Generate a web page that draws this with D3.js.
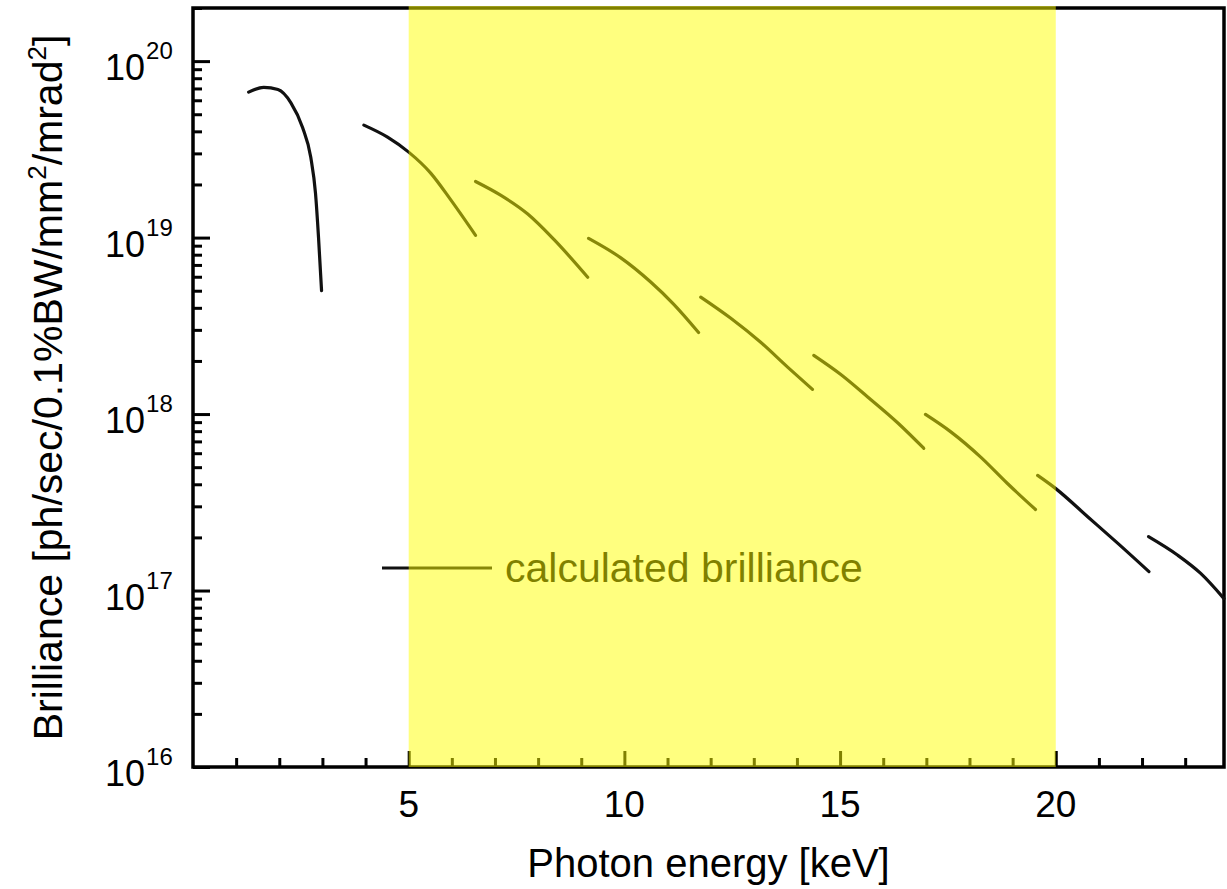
<!DOCTYPE html>
<html>
<head>
<meta charset="utf-8">
<script src="https://cdn.jsdelivr.net/npm/d3@7"></script>
<style>
  body { margin: 0; background: #fff; }
  text { font-family: "Liberation Sans", Arial, sans-serif; fill: #000; }
</style>
</head>
<body>
<div id="chart"></div>
<script>
// undulator harmonics, photon energy [keV] and brilliance
const harmonic1E = [1.29, 1.64, 1.97, 2.27, 2.54, 2.73, 2.84, 2.91, 2.98];
const harmonic1B = [6.67e19, 7.1e19, 6.9e19, 5.8e19, 4.2e19, 2.85e19, 1.78e19, 1.0e19, 5.0e18];
const harmonic3E = [3.96, 4.51, 5.0, 5.51, 5.98, 6.55];
const harmonic3B = [4.34e19, 3.71e19, 3.05e19, 2.32e19, 1.63e19, 1.03e19];
const harmonic5E = [6.55, 7.13, 7.76, 8.36, 9.15];
const harmonic5B = [2.08e19, 1.74e19, 1.36e19, 9.8e18, 5.96e18];
const harmonic7E = [9.17, 9.91, 10.61, 11.14, 11.72];
const harmonic7B = [9.9e18, 7.7e18, 5.6e18, 4.2e18, 2.9e18];
const harmonic9E = [11.77, 12.46, 13.16, 13.79, 14.36];
const harmonic9B = [4.6e18, 3.5e18, 2.55e18, 1.84e18, 1.38e18];
const harmonic11E = [14.39, 15.01, 15.64, 16.34, 16.94];
const harmonic11B = [2.15e18, 1.68e18, 1.25e18, 8.9e17, 6.4e17];
const harmonic13E = [16.98, 17.56, 18.26, 18.88, 19.53];
const harmonic13B = [9.95e17, 7.95e17, 5.7e17, 4.04e17, 2.88e17];
const harmonic15E = [19.58, 20.0, 20.74, 21.44, 22.16];
const harmonic15B = [4.49e17, 3.78e17, 2.62e17, 1.85e17, 1.28e17];
const harmonic17E = [22.15, 22.82, 23.36, 23.9];
const harmonic17B = [2.02e17, 1.59e17, 1.25e17, 9.0e16];

const harmonics = [
  [harmonic1E, harmonic1B], [harmonic3E, harmonic3B], [harmonic5E, harmonic5B],
  [harmonic7E, harmonic7B], [harmonic9E, harmonic9B], [harmonic11E, harmonic11B],
  [harmonic13E, harmonic13B], [harmonic15E, harmonic15B], [harmonic17E, harmonic17B]
];

const xDomain = [0, 23.9];
const yDomain = [1e16, 2e20];
const xTickLabels = [5, 10, 15, 20];
const yExponents = [16, 17, 18, 19, 20];
const bandRange = [5, 20]; // highlighted energy range
const legendLabel = "calculated brilliance";

const width = 1227, height = 889;
const margin = { top: 8, right: 3, bottom: 122, left: 193 };

const svg = d3.select("#chart").append("svg")
  .attr("width", width)
  .attr("height", height);

const x = d3.scaleLinear().domain(xDomain).range([margin.left, width - margin.right]);
const y = d3.scaleLog().domain(yDomain).range([height - margin.bottom, margin.top]);

// y ticks: decades plus minor 2..9
const yMinor = [];
for (let e = 16; e < 21; e++) {
  for (let m = 2; m <= 9; m++) {
    const v = m * Math.pow(10, e);
    if (v <= yDomain[1]) yMinor.push(v);
  }
}
const yMajor = yExponents.map((e) => Math.pow(10, e));

svg.append("g")
  .attr("transform", `translate(${margin.left},0)`)
  .call(d3.axisRight(y).tickValues(yMinor).tickSize(9).tickFormat(""))
  .call((g) => g.select(".domain").remove())
  .selectAll("line").attr("stroke-width", 3);

svg.append("g")
  .attr("transform", `translate(${margin.left},0)`)
  .call(d3.axisRight(y).tickValues(yMajor).tickSize(17).tickFormat(""))
  .call((g) => g.select(".domain").remove())
  .selectAll("line").attr("stroke-width", 3);

// x ticks: every keV, labelled every 5
const xMinor = d3.range(1, 24).filter((d) => d % 5 !== 0);
svg.append("g")
  .attr("transform", `translate(0,${height - margin.bottom})`)
  .call(d3.axisTop(x).tickValues(xMinor).tickSize(9).tickFormat(""))
  .call((g) => g.select(".domain").remove())
  .selectAll("line").attr("stroke-width", 3);

svg.append("g")
  .attr("transform", `translate(0,${height - margin.bottom})`)
  .call(d3.axisTop(x).tickValues(xTickLabels).tickSize(16).tickFormat(""))
  .call((g) => g.select(".domain").remove())
  .selectAll("line").attr("stroke-width", 3);

// frame
svg.append("rect")
  .attr("x", margin.left)
  .attr("y", margin.top)
  .attr("width", width - margin.right - margin.left)
  .attr("height", height - margin.bottom - margin.top)
  .attr("fill", "none")
  .attr("stroke", "#000")
  .attr("stroke-width", 3.5);

// tick labels
svg.append("g").selectAll("text")
  .data(xTickLabels)
  .join("text")
  .attr("x", (d) => x(d))
  .attr("y", height - margin.bottom + 50)
  .attr("text-anchor", "middle")
  .style("font-size", "37px")
  .text((d) => d);

const yLab = svg.append("g").selectAll("text")
  .data(yExponents)
  .join("text")
  .attr("x", 105)
  .attr("y", (d) => y(Math.pow(10, d)) + 19)
  .style("font-size", "36px");
yLab.append("tspan").text("10");
yLab.append("tspan")
  .attr("dy", -21)
  .attr("dx", 1)
  .style("font-size", "24px")
  .text((d) => d);

// axis titles
svg.append("text")
  .attr("x", (margin.left + width - margin.right) / 2)
  .attr("y", 877)
  .attr("text-anchor", "middle")
  .style("font-size", "40px")
  .text("Photon energy [keV]");

const yTitle = svg.append("text")
  .attr("transform", `translate(62,${(margin.top + height - margin.bottom) / 2}) rotate(-90)`)
  .attr("text-anchor", "middle")
  .style("font-size", "41px");
yTitle.append("tspan").text("Brilliance [ph/sec/0.1%BW/mm");
yTitle.append("tspan").attr("dy", -16).style("font-size", "26px").text("2");
yTitle.append("tspan").attr("dy", 16).text("/mrad");
yTitle.append("tspan").attr("dy", -16).style("font-size", "26px").text("2");
yTitle.append("tspan").attr("dy", 16).text("]");

// curves
const line = d3.line()
  .x((d) => x(d[0]))
  .y((d) => y(d[1]))
  .curve(d3.curveMonotoneX);

svg.append("g").selectAll("path")
  .data(harmonics.map(([es, bs]) => es.map((e, i) => [e, bs[i]])))
  .join("path")
  .attr("d", line)
  .attr("fill", "none")
  .attr("stroke", "#111")
  .attr("stroke-width", 3.2)
  .attr("stroke-linecap", "round");

// legend
svg.append("line")
  .attr("x1", 382).attr("x2", 492)
  .attr("y1", 568).attr("y2", 568)
  .attr("stroke", "#111")
  .attr("stroke-width", 3);
svg.append("text")
  .attr("x", 505)
  .attr("y", 582)
  .style("font-size", "41px")
  .text(legendLabel);

// translucent yellow band over everything
svg.append("rect")
  .attr("x", x(bandRange[0]))
  .attr("y", margin.top - 2)
  .attr("width", x(bandRange[1]) - x(bandRange[0]))
  .attr("height", height - margin.bottom - margin.top + 2)
  .attr("fill", "#ffff00")
  .attr("fill-opacity", 0.5);
</script>
</body>
</html>
